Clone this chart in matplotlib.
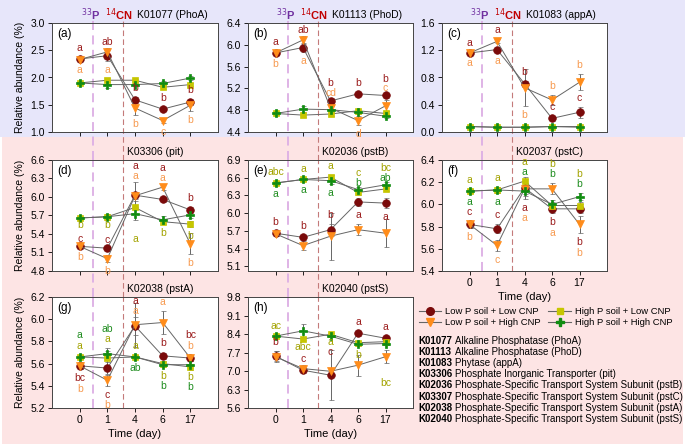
import matplotlib
matplotlib.use('Agg')
import matplotlib.pyplot as plt
from matplotlib import transforms
from matplotlib.patches import Rectangle
from matplotlib.lines import Line2D

plt.rcParams['font.family'] = ['Liberation Sans', 'DejaVu Sans']

days = ['0', '1', '4', '6', '17']

# (a) K01077 PhoA
phoa_ll = [2.34, 2.40, 1.59, 1.42, 1.55]
phoa_lh = [2.33, 2.47, 1.44, 1.21, 1.49]
phoa_hl = [1.90, 1.95, 1.95, 1.82, 1.87]
phoa_hh = [1.90, 1.87, 1.87, 1.89, 1.99]
phoa_ll_err = [0.03, 0.10, 0.06, 0.03, 0.05]
phoa_lh_err = [0.03, 0.08, 0.12, 0.05, 0.10]
phoa_hl_err = [0.02, 0.04, 0.03, 0.04, 0.03]
phoa_hh_err = [0.02, 0.07, 0.03, 0.04, 0.03]

# (b) K01113 PhoD
phod_ll = [5.85, 5.95, 4.97, 5.10, 5.07]
phod_lh = [5.85, 6.09, 4.84, 4.61, 4.88]
phod_hl = [4.74, 4.71, 4.73, 4.79, 4.74]
phod_hh = [4.74, 4.82, 4.81, 4.76, 4.69]
phod_ll_err = [0.04, 0.08, 0.06, 0.03, 0.05]
phod_lh_err = [0.04, 0.08, 0.10, 0.08, 0.10]
phod_hl_err = [0.02, 0.03, 0.03, 0.03, 0.04]
phod_hh_err = [0.02, 0.05, 0.06, 0.03, 0.04]

# (c) K01083 appA
appa_ll = [1.16, 1.21, 0.71, 0.20, 0.29]
appa_lh = [1.16, 1.33, 0.65, 0.47, 0.73]
appa_hl = [0.08, 0.07, 0.07, 0.08, 0.08]
appa_hh = [0.08, 0.07, 0.07, 0.08, 0.07]
appa_ll_err = [0.02, 0.04, 0.04, 0.04, 0.08]
appa_lh_err = [0.02, 0.03, 0.27, 0.08, 0.12]
appa_hl_err = [0.01, 0.01, 0.01, 0.01, 0.01]
appa_hh_err = [0.01, 0.01, 0.01, 0.01, 0.01]

# (d) K03306 pit
pit_ll = [5.20, 5.17, 6.03, 5.96, 5.79]
pit_lh = [5.20, 5.00, 6.02, 6.16, 5.24]
pit_hl = [5.66, 5.68, 5.83, 5.60, 5.56]
pit_hh = [5.66, 5.68, 5.73, 5.63, 5.71]
pit_ll_err = [0.03, 0.04, 0.21, 0.04, 0.05]
pit_lh_err = [0.03, 0.06, 0.05, 0.05, 0.17]
pit_hl_err = [0.02, 0.05, 0.10, 0.04, 0.05]
pit_hh_err = [0.02, 0.04, 0.10, 0.06, 0.05]

# (e) K02036 pstB
pstb_ll = [5.66, 5.59, 5.72, 6.19, 6.17]
pstb_lh = [5.65, 5.45, 5.61, 5.72, 5.66]
pstb_hl = [6.51, 6.57, 6.61, 6.35, 6.41]
pstb_hh = [6.51, 6.57, 6.55, 6.40, 6.48]
pstb_ll_err = [0.03, 0.04, 0.10, 0.07, 0.08]
pstb_lh_err = [0.03, 0.07, 0.40, 0.09, 0.24]
pstb_hl_err = [0.03, 0.03, 0.04, 0.04, 0.04]
pstb_hh_err = [0.03, 0.03, 0.05, 0.05, 0.05]

# (f) K02037 pstC
pstc_ll = [5.82, 5.78, 6.15, 5.96, 5.96]
pstc_lh = [5.82, 5.63, 6.14, 6.14, 5.82]
pstc_hl = [6.12, 6.13, 6.21, 5.99, 5.99]
pstc_hh = [6.12, 6.13, 6.12, 6.00, 6.07]
pstc_ll_err = [0.03, 0.04, 0.10, 0.04, 0.04]
pstc_lh_err = [0.03, 0.05, 0.05, 0.05, 0.08]
pstc_hl_err = [0.02, 0.03, 0.02, 0.03, 0.03]
pstc_hh_err = [0.02, 0.03, 0.04, 0.04, 0.03]

# (g) K02038 pstA
psta_ll = [5.58, 5.56, 5.94, 5.67, 5.65]
psta_lh = [5.58, 5.45, 5.95, 5.97, 5.65]
psta_hl = [5.66, 5.65, 5.66, 5.60, 5.57]
psta_hh = [5.66, 5.69, 5.66, 5.59, 5.59]
psta_ll_err = [0.03, 0.05, 0.08, 0.03, 0.03]
psta_lh_err = [0.03, 0.05, 0.20, 0.10, 0.03]
psta_hl_err = [0.02, 0.06, 0.02, 0.02, 0.03]
psta_hh_err = [0.02, 0.05, 0.02, 0.02, 0.03]

# (h) K02040 pstS
psts_ll = [7.56, 7.03, 6.84, 8.43, 8.24]
psts_lh = [7.54, 7.09, 6.99, 7.22, 7.54]
psts_hl = [8.32, 8.21, 8.39, 8.07, 8.11]
psts_hh = [8.32, 8.52, 8.32, 8.01, 8.04]
psts_ll_err = [0.20, 0.10, 0.95, 0.10, 0.10]
psts_lh_err = [0.20, 0.12, 0.10, 0.40, 0.25]
psts_hl_err = [0.05, 0.05, 0.05, 0.05, 0.05]
psts_hh_err = [0.05, 0.25, 0.05, 0.05, 0.05]

# significance letters: (letter colour, anchor series, day, text, side, level)
phoa_letters = [('ll', 'll', 0, 'a', 1, 0), ('lh', 'lh', 0, 'a', -1, 0),
                ('ll', 'lh', 1, 'ab', 1, -0.3), ('lh', 'll', 1, 'a', -1, 0),
                ('ll', 'll', 2, 'b', 1, 0), ('lh', 'lh', 2, 'b', -1, 0),
                ('ll', 'll', 3, 'b', 1, 0), ('lh', 'lh', 3, 'c', -1, 0),
                ('ll', 'll', 4, 'b', 1, 0), ('lh', 'lh', 4, 'b', -1, 0)]
phod_letters = [('ll', 'll', 0, 'a', 1, 0), ('lh', 'lh', 0, 'b', -1, 0),
                ('ll', 'lh', 1, 'ab', 1, -0.3), ('lh', 'll', 1, 'a', -1, 0),
                ('lh', 'll', 2, 'cd', 1, -0.4), ('ll', 'll', 2, 'b', 1, 0.5),
                ('ll', 'll', 3, 'b', 1, 0), ('lh', 'lh', 3, 'd', -1, 0),
                ('lh', 'll', 4, 'c', 1, -0.4), ('ll', 'll', 4, 'b', 1, 0.5)]
appa_letters = [('ll', 'll', 0, 'a', 1, 0), ('lh', 'lh', 0, 'a', -1, 0),
                ('ll', 'lh', 1, 'a', 1, 0), ('lh', 'll', 1, 'a', -1, 0),
                ('ll', 'll', 2, 'b', 1, 0), ('lh', 'lh', 2, 'b', -1, 0),
                ('lh', 'lh', 3, 'b', 1, 0), ('ll', 'll', 3, 'c', 1, 0),
                ('lh', 'lh', 4, 'b', 1, 0), ('ll', 'll', 4, 'c', 1, 0)]
pit_letters = [('hl', 'hh', 0, 'b', -1, -0.3), ('ll', 'll', 0, 'c', 1, -0.3), ('lh', 'lh', 0, 'b', -1, 0),
               ('hl', 'hh', 1, 'b', -1, -0.3), ('ll', 'll', 1, 'c', 1, -0.3), ('lh', 'lh', 1, 'b', -1, 0),
               ('lh', 'll', 2, 'a', 1, -0.3), ('ll', 'll', 2, 'a', 1, 0.7), ('hl', 'hh', 2, 'a', -1, 1),
               ('lh', 'lh', 3, 'a', 1, -0.3), ('ll', 'lh', 3, 'a', 1, 0.7), ('hl', 'hl', 3, 'b', -1, 0),
               ('ll', 'll', 4, 'b', 1, 0), ('hl', 'hl', 4, 'b', -1, 0), ('lh', 'lh', 4, 'b', -1, 0)]
pstb_letters = [('hl', 'hh', 0, 'abc', 1, 0), ('hh', 'hh', 0, 'a', -1, 0), ('ll', 'll', 0, 'b', 1, 0),
                ('hl', 'hh', 1, 'a', 1, 0), ('hh', 'hh', 1, 'a', -1, 0), ('ll', 'll', 1, 'b', 1, 0),
                ('hl', 'hl', 2, 'a', 1, 0), ('hh', 'hh', 2, 'a', -1, 0), ('ll', 'll', 2, 'b', 1, 0),
                ('hh', 'hh', 3, 'b', 1, -0.5), ('hl', 'hh', 3, 'c', 1, 0.45), ('ll', 'll', 3, 'a', -1, 0),
                ('hh', 'hh', 4, 'ab', 1, -0.5), ('hl', 'hh', 4, 'bc', 1, 0.45), ('ll', 'll', 4, 'a', -1, 0)]
pstc_letters = [('hl', 'hh', 0, 'a', 1, 0), ('hh', 'hh', 0, 'a', -1, 0),
                ('ll', 'll', 0, 'c', 1, 0), ('lh', 'lh', 0, 'b', -1, 0),
                ('hl', 'hh', 1, 'a', 1, 0), ('hh', 'hh', 1, 'a', -1, 0),
                ('ll', 'll', 1, 'c', 1, 0), ('lh', 'lh', 1, 'c', -1, 0),
                ('hh', 'hh', 2, 'a', 1, 0.5), ('hl', 'hh', 2, 'a', 1, 1.5),
                ('ll', 'll', 2, 'a', -1, 0), ('lh', 'll', 2, 'a', -1, 1),
                ('hh', 'lh', 3, 'b', 1, 0), ('hl', 'lh', 3, 'b', 1, 1),
                ('ll', 'll', 3, 'b', -1, 0), ('lh', 'll', 3, 'a', -1, 1),
                ('hh', 'hh', 4, 'b', 1, 0), ('hl', 'hh', 4, 'b', 1, 1),
                ('ll', 'lh', 4, 'b', -1, 0), ('lh', 'lh', 4, 'b', -1, 1)]
psta_letters = [('hl', 'hh', 0, 'a', 1, 0), ('hh', 'hh', 0, 'a', 1, 1),
                ('ll', 'll', 0, 'bc', -1, 0), ('lh', 'll', 0, 'b', -1, 1),
                ('hl', 'hh', 1, 'a', 1, 0), ('hh', 'hh', 1, 'ab', 1, 1),
                ('ll', 'lh', 1, 'c', -1, 0), ('lh', 'lh', 1, 'b', -1, 1),
                ('lh', 'll', 2, 'a', 1, -0.25), ('ll', 'll', 2, 'a', 1, 0.65),
                ('hl', 'hl', 2, 'a', 1, 0), ('hh', 'hh', 2, 'ab', -1, 0),
                ('lh', 'lh', 3, 'a', 1, 0), ('ll', 'll', 3, 'b', 1, 0),
                ('hl', 'hh', 3, 'b', -1, 0), ('hh', 'hh', 3, 'b', -1, 1),
                ('lh', 'll', 4, 'b', 1, 0), ('ll', 'll', 4, 'bc', 1, 1),
                ('hl', 'hh', 4, 'b', -1, 0), ('hh', 'hh', 4, 'b', -1, 1)]
psts_letters = [('hl', 'hh', 0, 'ac', 1, 0), ('ll', 'll', 0, 'b', 1, 0),
                ('hl', 'hl', 1, 'abc', -1, -0.2), ('ll', 'll', 1, 'c', 1, 0),
                ('hl', 'hh', 2, 'a', -1, -0.4), ('ll', 'll', 2, 'c', 1, -1.0),
                ('ll', 'll', 3, 'a', 1, 0), ('hl', 'hh', 3, 'b', -1, 0),
                ('ll', 'll', 4, 'a', 1, 0), ('hl', 'lh', 4, 'bc', -1, 1)]

ko_codes = ['K01077', 'K01113', 'K01083', 'K03306', 'K02036', 'K03307', 'K02038', 'K02040']
ko_names = ['Alkaline Phosphatase (PhoA)', 'Alkaline Phosphatase (PhoD)', 'Phytase (appA)',
            'Phosphate Inorganic Transporter (pit)',
            'Phosphate-Specific Transport System Subunit (pstB)',
            'Phosphate-Specific Transport System Subunit (pstC)',
            'Phosphate-Specific Transport System Subunit (pstA)',
            'Phosphate-Specific Transport System Subunit (pstS)']

series_labels = {'ll': 'Low P soil + Low CNP', 'lh': 'Low P soil + High CNP',
                 'hl': 'High P soil + Low CNP', 'hh': 'High P soil + High CNP'}
marker_style = {'ll': dict(marker='o', color='#7a0a0a', ms=5.5),
                'lh': dict(marker='v', color='#ff8c1a', ms=6),
                'hl': dict(marker='s', color='#c6c600', ms=5),
                'hh': dict(marker='P', color='#108c10', ms=6)}
letter_color = {'ll': '#9b1c1c', 'lh': '#f79a50', 'hl': '#a3a300', 'hh': '#1e8c1e'}

panels = [
    ('(a)', 'K01077 (PhoA)', 0, 0, (1.0, 3.0), 0.5,
     {'ll': (phoa_ll, phoa_ll_err), 'lh': (phoa_lh, phoa_lh_err),
      'hl': (phoa_hl, phoa_hl_err), 'hh': (phoa_hh, phoa_hh_err)}, phoa_letters),
    ('(b)', 'K01113 (PhoD)', 0, 1, (4.4, 6.4), 0.4,
     {'ll': (phod_ll, phod_ll_err), 'lh': (phod_lh, phod_lh_err),
      'hl': (phod_hl, phod_hl_err), 'hh': (phod_hh, phod_hh_err)}, phod_letters),
    ('(c)', 'K01083 (appA)', 0, 2, (0.0, 1.6), 0.4,
     {'ll': (appa_ll, appa_ll_err), 'lh': (appa_lh, appa_lh_err),
      'hl': (appa_hl, appa_hl_err), 'hh': (appa_hh, appa_hh_err)}, appa_letters),
    ('(d)', 'K03306 (pit)', 1, 0, (4.8, 6.6), 0.3,
     {'ll': (pit_ll, pit_ll_err), 'lh': (pit_lh, pit_lh_err),
      'hl': (pit_hl, pit_hl_err), 'hh': (pit_hh, pit_hh_err)}, pit_letters),
    ('(e)', 'K02036 (pstB)', 1, 1, (5.02, 6.9), 0.3,
     {'ll': (pstb_ll, pstb_ll_err), 'lh': (pstb_lh, pstb_lh_err),
      'hl': (pstb_hl, pstb_hl_err), 'hh': (pstb_hh, pstb_hh_err)}, pstb_letters),
    ('(f)', 'K02037 (pstC)', 1, 2, (5.4, 6.4), 0.2,
     {'ll': (pstc_ll, pstc_ll_err), 'lh': (pstc_lh, pstc_lh_err),
      'hl': (pstc_hl, pstc_hl_err), 'hh': (pstc_hh, pstc_hh_err)}, pstc_letters),
    ('(g)', 'K02038 (pstA)', 2, 0, (5.2, 6.2), 0.2,
     {'ll': (psta_ll, psta_ll_err), 'lh': (psta_lh, psta_lh_err),
      'hl': (psta_hl, psta_hl_err), 'hh': (psta_hh, psta_hh_err)}, psta_letters),
    ('(h)', 'K02040 (pstS)', 2, 1, (5.6, 9.8), 0.7,
     {'ll': (psts_ll, psts_ll_err), 'lh': (psts_lh, psts_lh_err),
      'hl': (psts_hl, psts_hl_err), 'hh': (psts_hh, psts_hh_err)}, psts_letters),
]

W, H = 685, 444
col_px = [(52, 218), (248, 413), (442, 607)]
row_px = [(23, 132), (160, 271), (297, 408)]
col_rows = {0: 3, 1: 3, 2: 2}

fig = plt.figure(figsize=(W / 100, H / 100), dpi=100)
fig.patches.append(Rectangle((0, 1 - 137 / H), 1, 137 / H, transform=fig.transFigure,
                             facecolor='#e7e6fa', edgecolor='none', zorder=-10))
fig.patches.append(Rectangle((2 / W, 0), 681 / W, 1 - 137 / H, transform=fig.transFigure,
                             facecolor='#fde4e4', edgecolor='none', zorder=-10))

x = list(range(len(days)))
for tag, title, r, c, ylim, step, data, letters in panels:
    x0, x1 = col_px[c]
    y0, y1 = row_px[r]
    ax = fig.add_axes([x0 / W, 1 - y1 / H, (x1 - x0) / W, (y1 - y0) / H])
    ax.set_xlim(-1, 5)
    ax.set_ylim(*ylim)
    ticks = []
    t = ylim[1]
    while t >= ylim[0] - 1e-6:
        ticks.append(round(t, 2))
        t -= step
    ax.set_yticks(ticks)
    ax.set_yticklabels(['%.1f' % v for v in ticks])
    ax.set_xticks(x)
    if (r, c) in [(1, 2), (2, 0), (2, 1)]:
        ax.set_xticklabels(days)
        ax.set_xlabel('Time (day)', fontsize=8, labelpad=3)
    else:
        ax.set_xticklabels([])
    if c == 0:
        ax.set_ylabel('Relative abundance (%)', fontsize=7.5, labelpad=4)
    ax.tick_params(direction='out', length=3, width=0.6, labelsize=7.5, pad=2)
    for s in ax.spines.values():
        s.set_linewidth(0.7)
        s.set_color('#444444')

    # treatment dashed lines, extended through the gaps between rows
    h = y1 - y0
    top = 20 if r == 0 else y0
    bottom = row_px[r + 1][0] if r + 1 < col_rows[c] else y1
    ymin = (y1 - bottom) / h
    ymax = (y1 - top) / h
    ax.axvline(0.47, ymin, ymax, color='#dcaee4', lw=1.3, ls=(0, (5, 3)), clip_on=False, zorder=1)
    ax.axvline(1.55, ymin, ymax, color='#c47a7a', lw=0.8, ls=(0, (5, 3)), clip_on=False, zorder=1)

    for key in ['ll', 'lh', 'hl', 'hh']:
        vals, errs = data[key]
        st = marker_style[key]
        ax.errorbar(x, vals, yerr=errs, color='#666666', lw=0.7, elinewidth=0.7,
                    capsize=1.8, capthick=0.7, marker=st['marker'], ms=st['ms'],
                    mfc=st['color'], mec=st['color'], mew=0.5, zorder=3)

    for ckey, akey, d, txt, side, level in letters:
        vals, errs = data[akey]
        ax.annotate(txt, xy=(d, vals[d] + side * errs[d]),
                    xytext=(0, side * (6.5 + 7.5 * level)), textcoords='offset points',
                    ha='center', va='center', fontsize=7.5, color=letter_color[ckey],
                    zorder=5, annotation_clip=False)

    ax.text(0.03, 0.9, tag, transform=ax.transAxes, fontsize=8.5, ha='left', va='center')
    tr = transforms.blended_transform_factory(ax.transData, ax.transAxes)
    if r == 0:
        ax.text(0.38, 1.075, r'$^{33}$P', transform=tr, ha='center', va='center',
                fontsize=8, color='#7030a0', fontweight='bold')
        ax.text(1.40, 1.075, r'$^{14}$CN', transform=tr, ha='center', va='center',
                fontsize=8, color='#c00000', fontweight='bold')
        ax.text(2.07, 1.075, title, transform=tr, ha='left', va='center', fontsize=7.5)
    else:
        ax.text(1.7, 1.07, title, transform=tr, ha='left', va='center', fontsize=7.5)

handles = []
for key in ['ll', 'lh', 'hl', 'hh']:
    st = marker_style[key]
    handles.append(Line2D([], [], color='#666666', lw=0.8, marker=st['marker'], ms=st['ms'],
                          mfc=st['color'], mec=st['color'], label=series_labels[key]))
fig.legend(handles=handles, ncol=2, loc='center left', bbox_to_anchor=(414 / W, 1 - 317 / H),
           frameon=False, fontsize=6.8, handlelength=2.4, handletextpad=0.4,
           columnspacing=0.8, labelspacing=0.2, borderpad=0)

for i, (code, name) in enumerate(zip(ko_codes, ko_names)):
    ypos = 1 - (341 + i * 11.1) / H
    fig.text(418 / W, ypos, code, fontsize=7, fontweight='bold', va='center', ha='left')
    fig.text(455 / W, ypos, name, fontsize=7, va='center', ha='left')

plt.savefig('out.png', dpi=100)
